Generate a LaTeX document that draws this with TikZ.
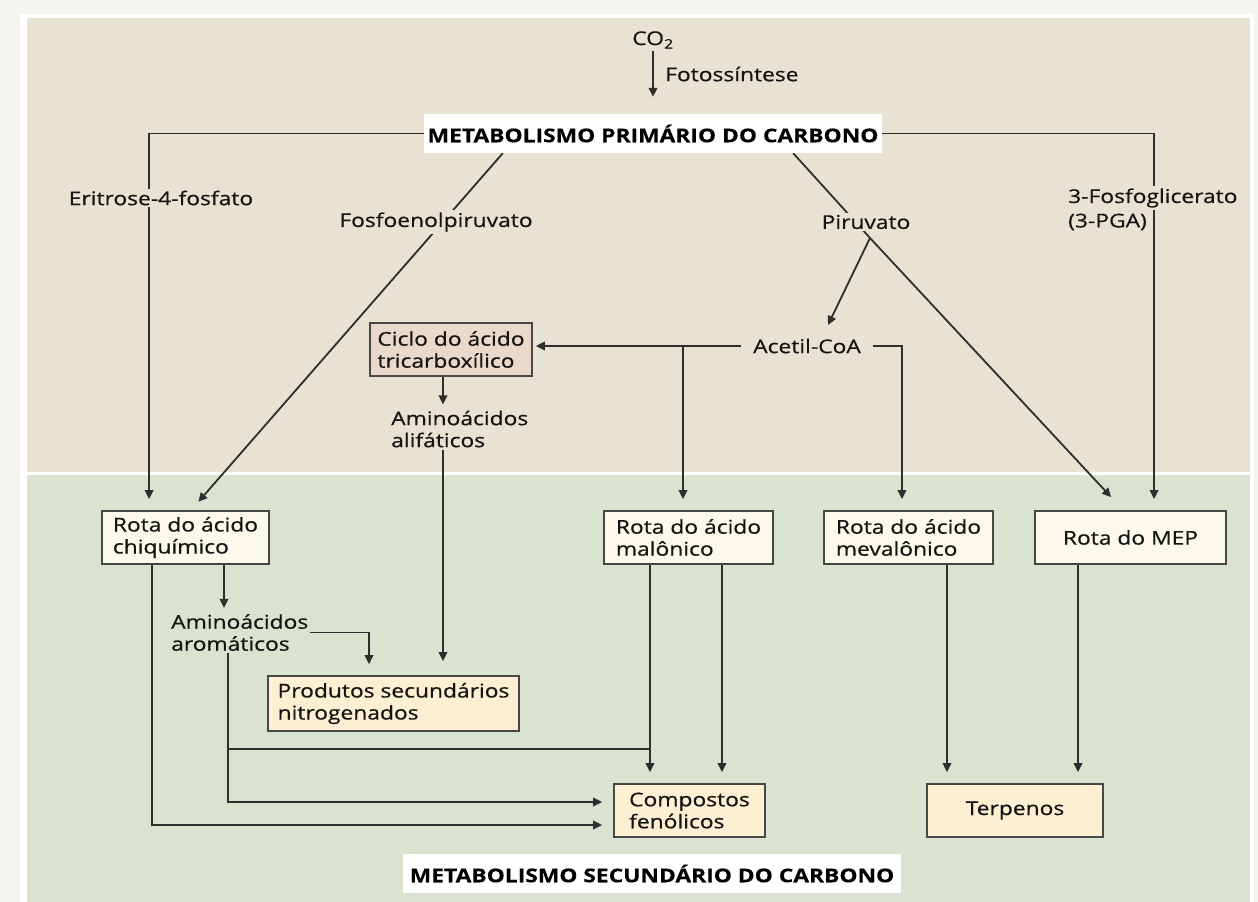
\documentclass[tikz,border=0pt]{standalone}
\usepackage{fontspec}
\setmainfont{Open Sans}[FakeStretch=1.2, UprightFeatures={FakeBold=0.6}, BoldFeatures={FakeBold=0.3}]
\usetikzlibrary{arrows.meta,calc}
\pgfdeclarelayer{back}
\pgfdeclarelayer{lines}
\pgfsetlayers{back,lines,main}
\definecolor{outerbg}{HTML}{F6F4EF}
\definecolor{beigebg}{HTML}{E8E2D3}
\definecolor{greenbg}{HTML}{D9E3D0}
\definecolor{pathfill}{HTML}{FBF8EC}
\definecolor{prodfill}{HTML}{FCEFD2}
\definecolor{ciclofill}{HTML}{EAD9CB}
\definecolor{boxline}{HTML}{474747}
\definecolor{conn}{HTML}{2E2E2E}
\begin{document}
\begin{tikzpicture}[x=1pt,y=-1pt,
  font=\fontsize{19}{22}\selectfont,
  arr/.style={draw=conn, line width=1.8pt, -{Triangle[length=9pt,width=8.5pt]}, shorten >=11pt},
  plain/.style={draw=conn, line width=1.8pt},
  lab/.style={fill=beigebg, inner sep=2pt, align=left, text=black!92},
  txt/.style={inner sep=2pt, align=left, text=black!92},
  box/.style={draw=boxline, line width=1.8pt, align=left, inner sep=0pt, minimum height=53pt, text=black!92},
  title/.style={fill=white, inner sep=0pt, minimum height=39pt, font=\fontsize{19}{22}\selectfont\bfseries}
]
\useasboundingbox (0,0) rectangle (1258,902);
\begin{pgfonlayer}{back}
  \fill[outerbg] (0,0) rectangle (1258,902);
  \fill[white] (20,14) rectangle (1254,902);
  \fill[beigebg] (27,18) rectangle (1250,472);
  \fill[greenbg] (27,475) rectangle (1250,902);
\end{pgfonlayer}

% nodes
\node[txt] (co2) at (653,40) {CO\textsubscript{2}};
\node[txt, anchor=west] (fot) at (663,74) {Fotossíntese};
\node[title, minimum width=458pt] (mpc) at (653,133.5) {METABOLISMO PRIMÁRIO DO CARBONO};
\node[lab] (eri) at (161,198) {Eritrose-4-fosfato};
\node[lab] (fosfo) at (436,222) {Fosfoenolpiruvato};
\node[lab] (piru) at (866,222) {Piruvato};
\node[lab, anchor=west] (pga1) at (1066,198) {3-Fosfoglicerato};
\node[txt, anchor=west] (pga2) at (1066,222) {(3-PGA)};
\node[box, fill=ciclofill, minimum width=162pt] (ciclo) at (451,349.5) {Ciclo do ácido\\tricarboxílico};
\node[txt, anchor=west] (aali) at (389,429) {Aminoácidos\\alifáticos};
\node[txt, inner xsep=12pt] (acetil) at (807,346) {Acetil-CoA};
\node[box, fill=pathfill, minimum width=167pt] (chiq) at (185.5,537.5) {Rota do ácido\\chiquímico};
\node[box, fill=pathfill, minimum width=169pt] (mal) at (688.5,537.5) {Rota do ácido\\malônico};
\node[box, fill=pathfill, minimum width=169pt] (mev) at (908.5,537.5) {Rota do ácido\\mevalônico};
\node[box, fill=pathfill, minimum width=191pt] (mep) at (1130.5,537.5) {Rota do MEP};
\node[txt, anchor=west] (aaro) at (169,632.5) {Aminoácidos\\aromáticos};
\node[box, fill=prodfill, minimum width=251pt, minimum height=55pt] (prod) at (393.5,703.5) {Produtos secundários\\nitrogenados};
\node[box, fill=prodfill, minimum width=151pt] (comp) at (689.5,810.5) {Compostos\\fenólicos};
\node[box, fill=prodfill, minimum width=176pt] (terp) at (1015,810.5) {Terpenos};
\node[title, minimum width=498pt] (msc) at (652,873.5) {METABOLISMO SECUNDÁRIO DO CARBONO};

% connectors
\begin{pgfonlayer}{lines}
  \draw[arr, shorten >=17pt] (co2.south) -- (mpc.north);
  \draw[arr] (mpc.west) -| ($(chiq.north west)+(48,0)$);
  \draw[arr] (mpc.east) -| ($(mep.north west)+(120,0)$);
  \draw[arr] ($(mpc.south west)+(79,0)$) -- ($(chiq.north west)+(90,0)$);
  \coordinate (apex) at ($(piru.center)+(4,16)$);
  \draw[plain] ($(mpc.south east)+(-89,0)$) -- (apex);
  \draw[arr, shorten >=0pt] (apex) -- ($(acetil.center)+(21,-21)$);
  \draw[arr, shorten >=0pt] (apex) -- ($(mep.north west)+(77,-13)$);
  \coordinate (malin) at ($(mal.north)+(-5.5,0)$);
  \draw[arr, shorten >=3pt] (acetil.west) -- (acetil.west -| ciclo.east);
  \draw[arr] (malin |- acetil.west) -- (malin);
  \coordinate (mevin) at ($(mev.north)+(-6.5,0)$);
  \draw[arr] (acetil.east) -| (mevin);
  \coordinate (cicout) at ($(ciclo.south)+(-8,0)$);
  \draw[arr, shorten >=4pt] (cicout) -- (cicout |- aali.north);
  \coordinate (prodin2) at ($(prod.north)+(49.5,0)$);
  \draw[arr, shorten >=14pt] (prodin2 |- aali.south) -- (prodin2);
  \coordinate (chiqout1) at ($(chiq.south)+(-33.5,0)$);
  \coordinate (chiqout2) at ($(chiq.south)+(38.5,0)$);
  \draw[arr, shorten >=4pt] (chiqout2) -- (chiqout2 |- aaro.north);
  \draw[arr] (chiqout1) |- ($(comp.west)+(0,14.5)$);
  \coordinate (prodin1) at ($(prod.north)+(-24.5,0)$);
  \draw[arr] (aaro.east) -| (prodin1);
  \coordinate (aroout) at ($(aaro.south west)+(59,0)$);
  \draw[arr] (aroout) |- ($(comp.west)+(0,-8.5)$);
  \coordinate (malout1) at ($(mal.south)+(-38.5,0)$);
  \coordinate (malout2) at ($(mal.south)+(33.5,0)$);
  \coordinate (junc) at ($(malout1 |- comp.north)+(0,-34)$);
  \draw[plain] (aroout |- junc) -- (junc);
  \draw[arr] (malout1) -- (malout1 |- comp.north);
  \draw[arr] (malout2) -- (malout2 |- comp.north);
  \coordinate (mevout) at ($(mev.south)+(38.5,0)$);
  \draw[arr] (mevout) -- (mevout |- terp.north);
  \coordinate (mepout) at ($(mep.south)+(-52.5,0)$);
  \draw[arr] (mepout) -- (mepout |- terp.north);
\end{pgfonlayer}
\end{tikzpicture}
\end{document}
